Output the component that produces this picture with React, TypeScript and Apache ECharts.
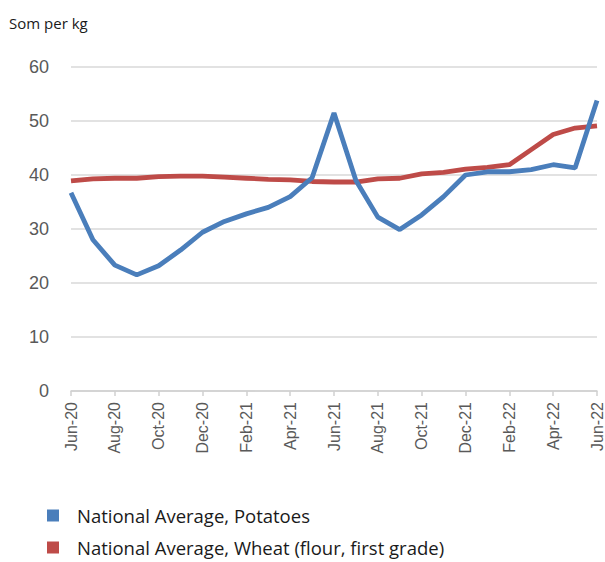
import React, { useEffect, useRef } from "react";
import * as echarts from "echarts";

const months = [
  "Jun-20", "Jul-20", "Aug-20", "Sep-20", "Oct-20", "Nov-20", "Dec-20",
  "Jan-21", "Feb-21", "Mar-21", "Apr-21", "May-21", "Jun-21", "Jul-21",
  "Aug-21", "Sep-21", "Oct-21", "Nov-21", "Dec-21", "Jan-22", "Feb-22",
  "Mar-22", "Apr-22", "May-22", "Jun-22",
];

const potatoes = [
  36.7, 28.0, 23.3, 21.5, 23.2, 26.1, 29.4, 31.4, 32.8, 34.0, 36.0, 39.5,
  51.5, 39.0, 32.2, 29.9, 32.6, 36.0, 40.0, 40.6, 40.6, 41.0, 41.9, 41.3, 53.8,
];

const wheat = [
  38.9, 39.3, 39.4, 39.4, 39.7, 39.8, 39.8, 39.6, 39.4, 39.2, 39.1, 38.8,
  38.7, 38.7, 39.3, 39.4, 40.2, 40.5, 41.1, 41.4, 41.9, 44.7, 47.5, 48.7, 49.1,
];

const yTicks = { min: 0, max: 60, interval: 10 };
const yUnit = "Som per kg";
const seriesNames = ["National Average, Potatoes", "National Average, Wheat (flour, first grade)"];
const colors = ["#4a7ebb", "#be4b48"];

export default function App() {
  const ref = useRef<HTMLDivElement>(null);
  useEffect(() => {
    if (!ref.current) return;
    const chart = echarts.init(ref.current, null, { renderer: "svg" });
    const legendBase = {
      orient: "horizontal",
      left: 42,
      icon: "rect",
      itemWidth: 12,
      itemHeight: 12,
      padding: [2, 5, 2, 5],
      textStyle: {
        fontSize: 18.5,
        color: "#1a1a1a",
        fontFamily: "Open Sans",
        padding: [0, 0, 0, 13],
      },
    };
    chart.setOption({
      animation: false,
      backgroundColor: "#ffffff",
      graphic: [
        {
          type: "text",
          left: 9,
          top: 15,
          style: { text: yUnit, fontSize: 15, fill: "#1a1a1a", fontFamily: "Open Sans" },
        },
      ],
      grid: { left: 71, right: 6, top: 67, bottom: 171, containLabel: false },
      legend: [
        { ...legendBase, top: 504, data: [seriesNames[0]] },
        { ...legendBase, top: 536, data: [seriesNames[1]] },
      ],
      xAxis: {
        type: "category",
        data: months,
        boundaryGap: false,
        axisLine: { lineStyle: { color: "#d0d0d0", width: 1.5 } },
        axisTick: { show: true, interval: 1, length: 5, lineStyle: { color: "#d0d0d0", width: 1.5 } },
        axisLabel: {
          interval: 1,
          rotate: 90,
          fontSize: 16,
          color: "#595959",
          fontFamily: "Liberation Sans",
          margin: 11,
        },
        splitLine: { show: false },
      },
      yAxis: {
        type: "value",
        min: yTicks.min,
        max: yTicks.max,
        interval: yTicks.interval,
        axisLine: { show: false },
        axisTick: { show: false },
        axisLabel: { fontSize: 18, color: "#595959", fontFamily: "Liberation Sans", margin: 22 },
        splitLine: { lineStyle: { color: "#d9d9d9", width: 1.5 } },
      },
      series: [
        {
          name: seriesNames[0],
          type: "line",
          data: potatoes,
          symbol: "none",
          lineStyle: { color: colors[0], width: 4.8 },
          itemStyle: { color: colors[0] },
          z: 3,
        },
        {
          name: seriesNames[1],
          type: "line",
          data: wheat,
          symbol: "none",
          lineStyle: { color: colors[1], width: 4.8 },
          itemStyle: { color: colors[1] },
          z: 2,
        },
      ],
    });
    return () => chart.dispose();
  }, []);
  return <div ref={ref} style={{ width: 605, height: 562, position: "absolute", left: 0, top: 0 }} />;
}
